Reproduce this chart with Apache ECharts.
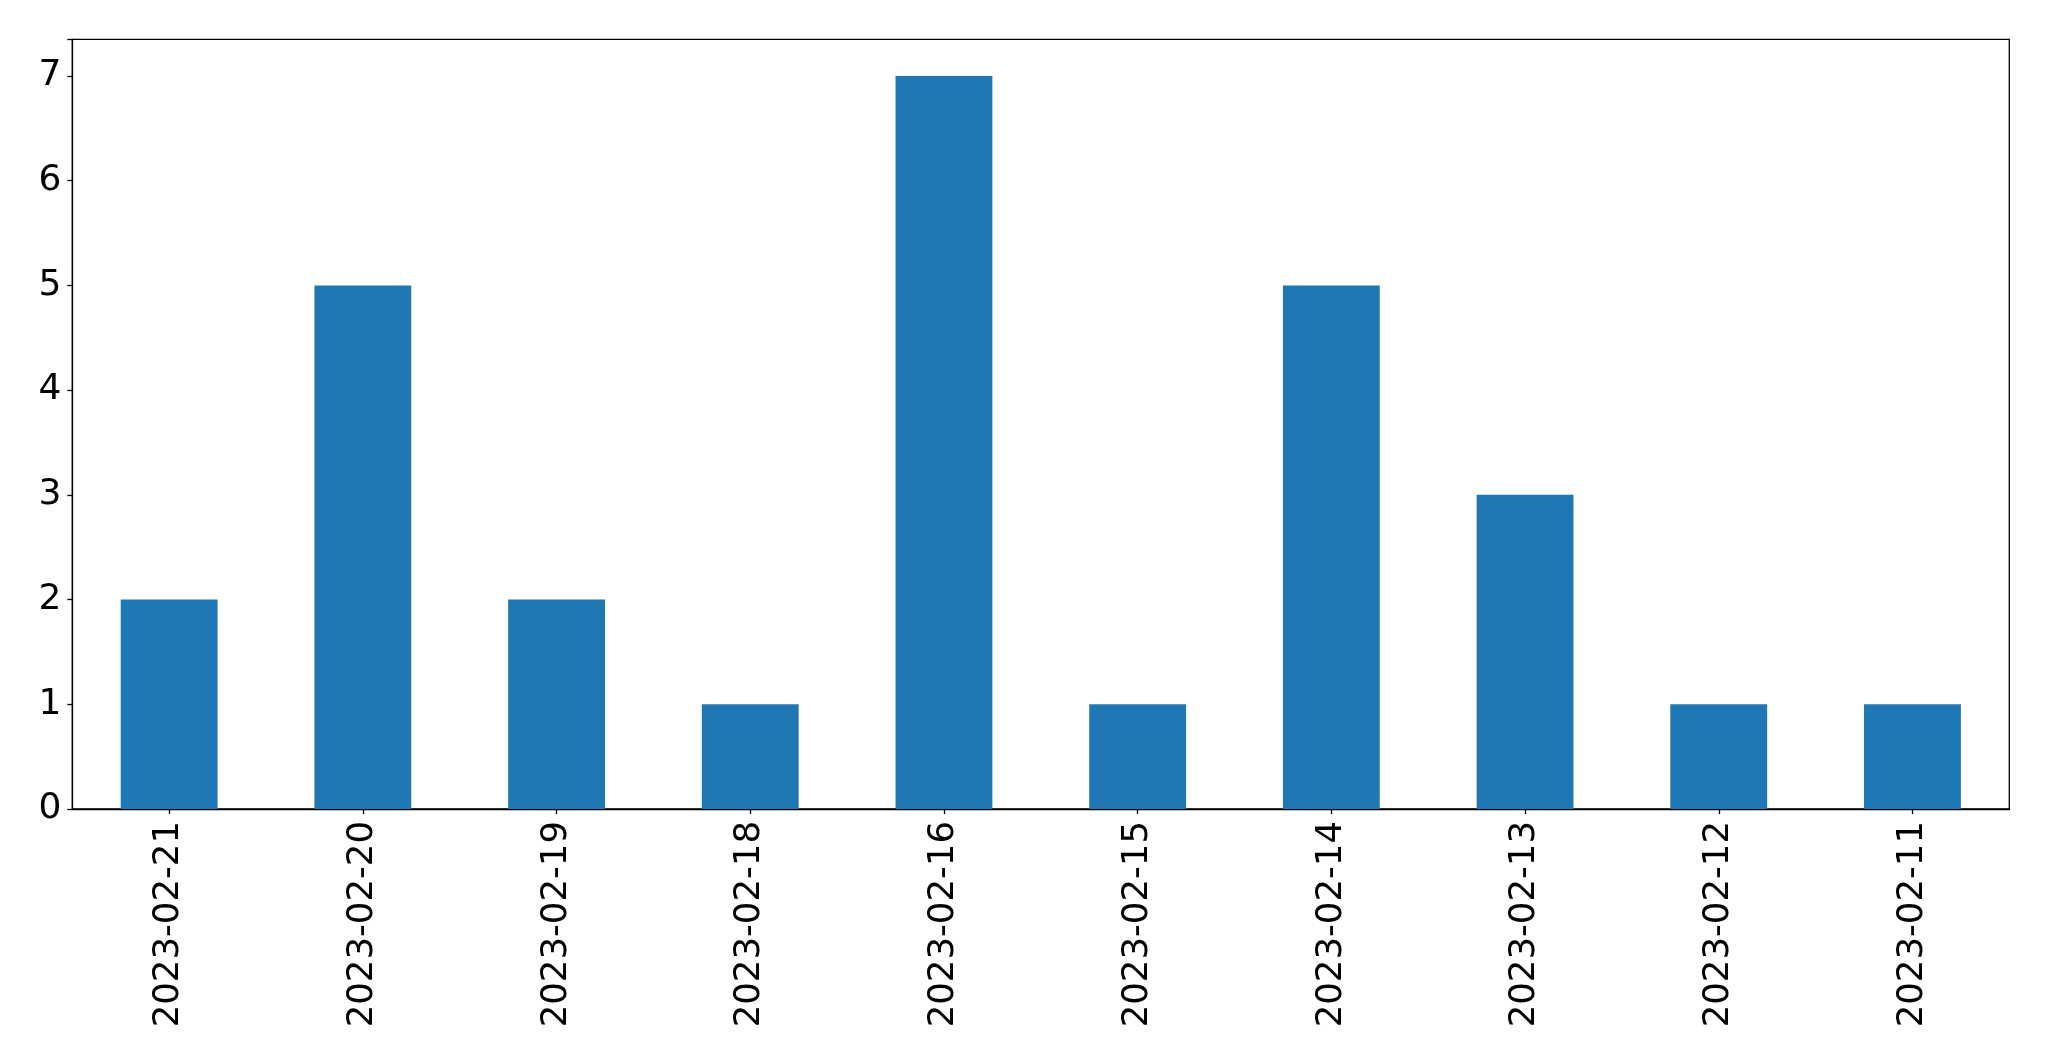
<!DOCTYPE html>
<html>
<head>
<meta charset="utf-8">
<script src="https://cdn.jsdelivr.net/npm/echarts@6/dist/echarts.min.js"></script>
<style>
html,body{margin:0;padding:0;background:#fff;}
#chart{width:2049px;height:1061px;}
</style>
</head>
<body>
<div id="chart"></div>
<script>
const categories = ["2023-02-21","2023-02-20","2023-02-19","2023-02-18","2023-02-16","2023-02-15","2023-02-14","2023-02-13","2023-02-12","2023-02-11"];
const values = [2,5,2,1,7,1,5,3,1,1];
const yTicks = [0,1,2,3,4,5,6,7];

const chart = echarts.init(document.getElementById('chart'), null, {renderer:'canvas'});
const font = "DejaVu Sans";
chart.setOption({
  animation:false,
  grid:{left:72.3, right:39.7, top:39.3, bottom:252, show:true, borderColor:'#000', borderWidth:1.3, backgroundColor:'transparent'},
  xAxis:{
    type:'category',
    data:categories,
    axisLine:{show:true, lineStyle:{color:'#000', width:1.3}},
    axisTick:{show:true, alignWithLabel:true, length:5, lineStyle:{color:'#000', width:1.3}},
    axisLabel:{rotate:90, fontSize:35.5, fontFamily:font, color:'#000', margin:12, interval:0},
    splitLine:{show:false}
  },
  yAxis:{
    type:'value',
    min:0, max:7.35, interval:1,
    axisLine:{show:true, lineStyle:{color:'#000', width:1.3}},
    axisTick:{show:true, length:5, lineStyle:{color:'#000', width:1.3}},
    axisLabel:{fontSize:36, fontFamily:font, color:'#000', margin:11,
      formatter:function(v){ return yTicks.indexOf(v) >= 0 ? String(v) : ''; }},
    splitLine:{show:false}
  },
  series:[{
    type:'bar',
    data:values,
    barWidth:'50%',
    itemStyle:{color:'#1f77b4'}
  }]
});
</script>
</body>
</html>
